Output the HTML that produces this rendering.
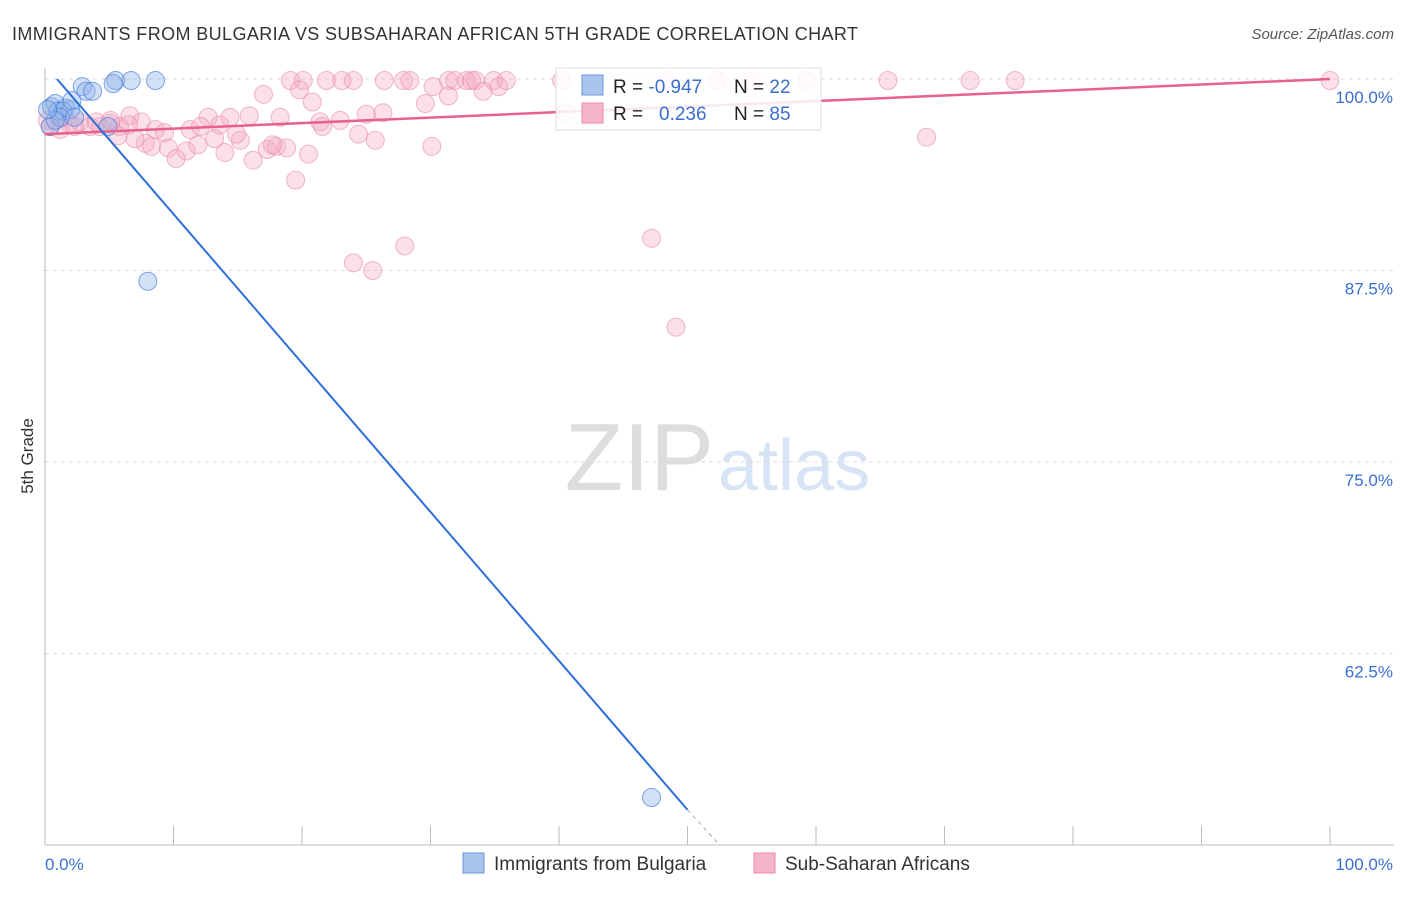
<!DOCTYPE html>
<html><head><meta charset="utf-8"><style>
body{margin:0;background:#fff;font-family:"Liberation Sans",sans-serif}
svg text{font-family:"Liberation Sans",sans-serif}
</style></head><body>
<svg id="c" width="1406" height="892" xmlns="http://www.w3.org/2000/svg">
<text x="12" y="40" font-size="18" fill="#333" textLength="846">IMMIGRANTS FROM BULGARIA VS SUBSAHARAN AFRICAN 5TH GRADE CORRELATION CHART</text>
<text x="1394" y="39" font-size="15" fill="#555" font-style="italic" text-anchor="end">Source: ZipAtlas.com</text>
<text x="33" y="456" font-size="17" fill="#333" text-anchor="middle" transform="rotate(-90 33 456)">5th Grade</text>
<text x="714" y="490" font-size="96" fill="#ddd" font-family="Liberation Serif" text-anchor="end">ZIP</text>
<text x="718" y="490" font-size="72" fill="#d6e4f5">atlas</text>
<g id="grid"></g><g id="pts"></g><g id="lines"></g>
<g>
<rect x="556" y="68" width="265" height="62" fill="#fff" fill-opacity="0.85" stroke="#ddd"/>
<rect x="582" y="75" width="21" height="20" fill="#a9c4ee" stroke="#6a97d8"/>
<rect x="582" y="103" width="21" height="20" fill="#f6b4c8" stroke="#e88aa8"/>
<text x="613" y="93" font-size="19" fill="#222">R = <tspan fill="#3a6fd0">-0.947</tspan></text>
<text x="734" y="93" font-size="19" fill="#222">N = <tspan fill="#3a6fd0">22</tspan></text>
<text x="613" y="120" font-size="19" fill="#222">R = <tspan fill="#3a6fd0" x="659">0.236</tspan></text>
<text x="734" y="120" font-size="19" fill="#222">N = <tspan fill="#3a6fd0">85</tspan></text>
</g>
<g>
<rect x="463" y="853" width="21" height="20" fill="#a9c4ee" stroke="#6a97d8"/>
<text x="494" y="870" font-size="19" fill="#333">Immigrants from Bulgaria</text>
<rect x="754" y="853" width="21" height="20" fill="#f6b4c8" stroke="#e88aa8"/>
<text x="785" y="870" font-size="19" fill="#333">Sub-Saharan Africans</text>
</g>
</svg>
<script>
const yTicks=[100,87.5,75,62.5];
const yTickLabels=["100.0%","87.5%","75.0%","62.5%"];
const blueX=[0.5,0.8,1.0,1.6,2.0,1.4,2.1,2.9,3.2,3.7,5.5,5.3,6.7,8.6,8.0,47.2,4.9,0.4,1.2,2.3,0.8,0.2];
const blueY=[98.2,98.4,97.9,98.1,98.0,97.9,98.6,99.5,99.2,99.2,99.9,99.7,99.9,99.9,86.8,53.1,96.9,96.9,97.5,97.5,97.3,98.0];
const pinkX=[19.1,20.1,24.0,21.9,23.1,27.9,28.4,26.4,31.4,31.9,32.8,33.2,33.5,34.9,35.9,40.2,48.3,52.3,55.0,59.3,65.6,72.0,75.5,100,
17.0,19.8,20.8,30.2,29.6,31.4,34.1,35.3,26.3,40.5,
12.7,14.4,15.9,18.3,21.4,22.97,21.6,25.0,24.4,25.7,30.1,68.6,
0.2,1.2,1.9,2.7,3.5,4.3,5.1,5.8,6.6,7.5,8.6,9.3,11.3,12.1,13.2,15.2,14.9,7.8,8.3,9.6,11.0,11.9,14.0,16.2,17.3,18.0,18.8,17.7,20.5,10.2,19.5,24.0,25.5,28.0,47.2,49.1,6.5,4.0,1.2,2.3,0.4,5.1,5.7,7.0,13.6];
const pinkY=[99.9,99.9,99.9,99.9,99.9,99.9,99.9,99.9,99.9,99.9,99.9,99.9,99.9,99.9,99.9,99.9,99.9,99.9,99.9,99.9,99.9,99.9,99.9,99.9,
99.0,99.3,98.5,99.5,98.4,98.9,99.2,99.5,97.8,97.8,
97.5,97.5,97.6,97.5,97.2,97.3,96.9,97.7,96.4,96.0,95.6,96.2,
97.3,97.4,97.1,97.2,96.9,96.9,97.1,96.9,97.6,97.2,96.7,96.5,96.7,96.9,96.1,96.0,96.4,95.8,95.6,95.5,95.3,95.7,95.2,94.7,95.4,95.6,95.5,95.7,95.1,94.8,93.4,88.0,87.5,89.1,89.6,83.8,97.0,97.2,96.7,96.9,96.9,97.3,96.3,96.1,97.0];
const blueFit=[[0.93,100],[50,52.3]];
const blueExt=[[50,52.3],[52.5,50]];
const pinkFit=[[0,96.4],[100,100]];
const X=v=>45+v*12.85, Y=v=>79+(100-v)*15.32;
const NS="http://www.w3.org/2000/svg";
function mk(tag,attrs,parent){const e=document.createElementNS(NS,tag);for(const k in attrs)e.setAttribute(k,attrs[k]);parent.appendChild(e);return e;}
const grid=document.getElementById('grid');
yTicks.forEach((t,i)=>{
 const l=mk('line',{x1:45,x2:1394,y1:Y(t),y2:Y(t),stroke:'#ddd','stroke-dasharray':'4,4'},grid);
 
 
 const tx=mk('text',{x:1393,y:Y(t)+24,'font-size':17,fill:'#3a6fd0','text-anchor':'end'},grid);
 tx.textContent=yTickLabels[i];
 
 
});
const ax=mk('line',{x1:45,x2:45,y1:68,y2:845,stroke:'#bbb'},grid);


const bx=mk('line',{x1:45,x2:1394,y1:845,y2:845,stroke:'#bbb'},grid);


for(let i=0;i<=10;i++){const t=mk('line',{x1:X(i*10),x2:X(i*10),y1:826,y2:845,stroke:'#bbb'},grid);
 
 }
[["0.0%",45,'start'],["100.0%",1393,'end']].forEach(a=>{const t=mk('text',{x:a[1],y:870,'font-size':17,fill:'#3a6fd0','text-anchor':a[2]},grid);t.textContent=a[0];
 
 });
const pts=document.getElementById('pts');
pinkX.forEach((x,i)=>{const c=mk('circle',{cx:X(x),cy:Y(pinkY[i]),r:9,fill:'#f4a6bf','fill-opacity':0.35,stroke:'#e88aa8','stroke-opacity':0.6},pts);
 
 });
blueX.forEach((x,i)=>{const c=mk('circle',{cx:X(x),cy:Y(blueY[i]),r:9,fill:'#90b4ea','fill-opacity':0.4,stroke:'#4a80d8','stroke-opacity':0.7},pts);
 
 });
const lines=document.getElementById('lines');
const l1=mk('line',{x1:X(pinkFit[0][0]),y1:Y(pinkFit[0][1]),x2:X(pinkFit[1][0]),y2:Y(pinkFit[1][1]),stroke:'#e8618a','stroke-width':2.5},lines);


const l2=mk('line',{x1:X(blueFit[0][0]),y1:Y(blueFit[0][1]),x2:X(blueFit[1][0]),y2:Y(blueFit[1][1]),stroke:'#2d6fd8','stroke-width':2},lines);


const l3=mk('line',{x1:X(blueExt[0][0]),y1:Y(blueExt[0][1]),x2:X(blueExt[1][0]),y2:Y(blueExt[1][1]),stroke:'#aaa','stroke-width':1,'stroke-dasharray':'4,4'},lines);


</script>
</body></html>
